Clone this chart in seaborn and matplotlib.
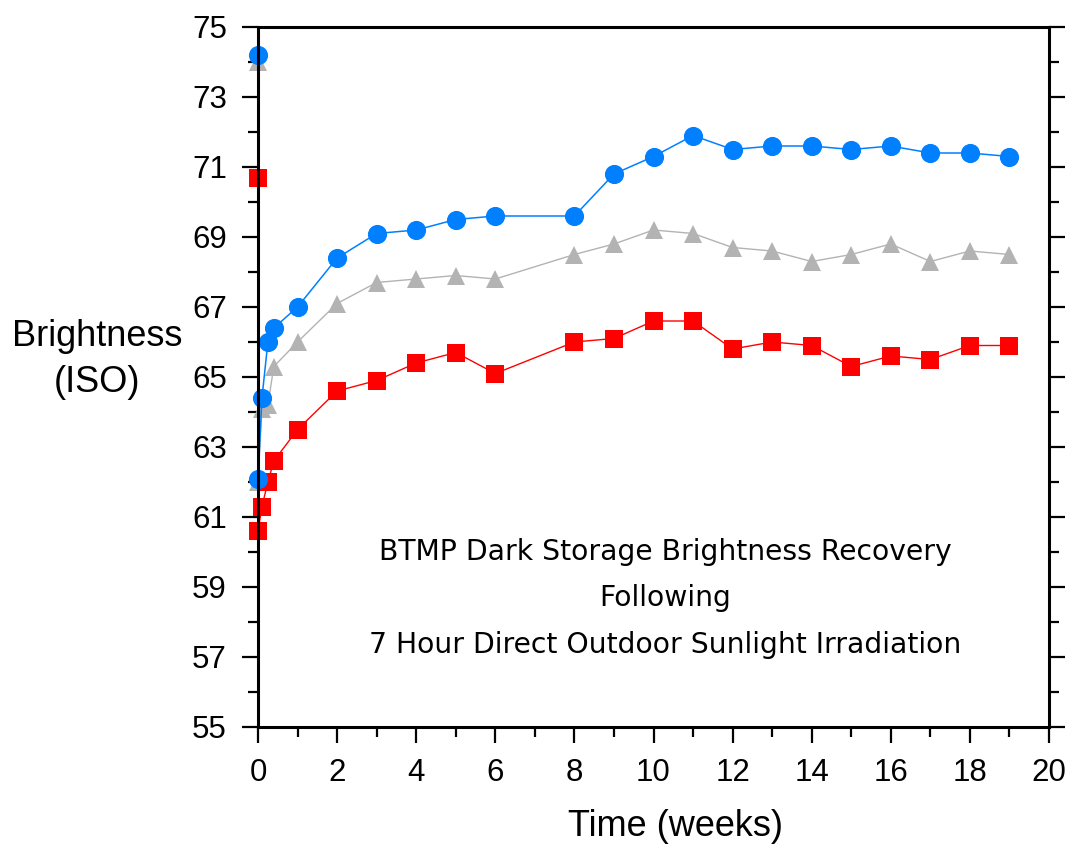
import matplotlib
matplotlib.use("Agg")
import matplotlib.pyplot as plt
from matplotlib.ticker import MultipleLocator, FixedLocator
import seaborn as sns
import pandas as pd

# ---- data ----
weeks = [0, 0, 0.1, 0.25, 0.4, 1, 2, 3, 4, 5, 6, 8, 9, 10, 11, 12, 13, 14, 15, 16, 17, 18, 19]
blue_vals = [74.2, 62.1, 64.4, 66.0, 66.4, 67.0, 68.4, 69.1, 69.2, 69.5, 69.6, 69.6, 70.8,
             71.3, 71.9, 71.5, 71.6, 71.6, 71.5, 71.6, 71.4, 71.4, 71.3]
gray_vals = [74.0, 62.0, 64.1, 64.2, 65.3, 66.0, 67.1, 67.7, 67.8, 67.9, 67.8, 68.5, 68.8,
             69.2, 69.1, 68.7, 68.6, 68.3, 68.5, 68.8, 68.3, 68.6, 68.5]
red_vals = [70.7, 60.6, 61.3, 62.0, 62.6, 63.5, 64.6, 64.9, 65.4, 65.7, 65.1, 66.0, 66.1,
            66.6, 66.6, 65.8, 66.0, 65.9, 65.3, 65.6, 65.5, 65.9, 65.9]
y_major_ticks = [55, 57, 59, 61, 63, 65, 67, 69, 71, 73, 75]
y_minor_ticks = [56, 58, 60, 62, 64, 66, 68, 70, 72, 74]
annotation_lines = ["BTMP Dark Storage Brightness Recovery",
                    "Following",
                    "7 Hour Direct Outdoor Sunlight Irradiation"]

sns.set_theme(style="white")
plt.rcParams['font.family'] = ['Liberation Sans', 'DejaVu Sans']

W, H, DPI = 10.74, 8.44, 100
fig = plt.figure(figsize=(W, H), dpi=DPI)
ax = fig.add_axes([258/1074, 1-727/844, (1049-258)/1074, (727-27)/844])

series = [
    (gray_vals, "#B3B3B3", "^", 13.5, 1.0),
    (red_vals, "#FF0000", "s", 13.0, 1.0),
    (blue_vals, "#0080FF", "o", 13.8, 1.1),
]
for vals, col, mk, ms, lw in series:
    df = pd.DataFrame({"t": weeks, "v": vals})
    sns.lineplot(data=df, x="t", y="v", ax=ax, sort=False, estimator=None,
                 color=col, linewidth=lw, marker=mk, markersize=ms,
                 markeredgewidth=0, markerfacecolor=col, clip_on=False)

ax.set_xlim(0, 20)
ax.set_ylim(55, 75)
ax.xaxis.set_major_locator(MultipleLocator(2))
ax.xaxis.set_minor_locator(MultipleLocator(1))
ax.yaxis.set_major_locator(FixedLocator(y_major_ticks))
ax.yaxis.set_minor_locator(FixedLocator(y_minor_ticks))
ax.set_xlabel("")
ax.set_ylabel("")

for s in ax.spines.values():
    s.set_visible(True)
    s.set_color("black")
    s.set_linewidth(2.2)

ax.tick_params(axis="both", which="both", direction="out", color="black", width=1.6,
               labelcolor="black")
ax.tick_params(axis="y", which="both", left=True, right=True, labelright=False)
ax.tick_params(axis="x", which="both", bottom=True, top=False)
ax.tick_params(which="major", length=11.5, labelsize=22.5, pad=11)
ax.tick_params(which="minor", length=7.5)
ax.tick_params(axis="x", which="major", pad=11)
ax.grid(False)

# annotation
ys = [552, 598, 645]
for line, yp in zip(annotation_lines, ys):
    ax.text(665/1074, 1-yp/844, line, transform=fig.transFigure, ha="center", va="center",
            fontsize=20.3, family=["DejaVu Sans"], color="black")

fig.text(97/1074, 1-337/844, "Brightness", ha="center", va="center", fontsize=26, color="black")
fig.text(97/1074, 1-383/844, "(ISO)", ha="center", va="center", fontsize=26, color="black")
fig.text(676/1074, 1-826/844, "Time (weeks)", ha="center", va="center", fontsize=26, color="black")

fig.savefig("out.png", dpi=DPI, facecolor="white")
